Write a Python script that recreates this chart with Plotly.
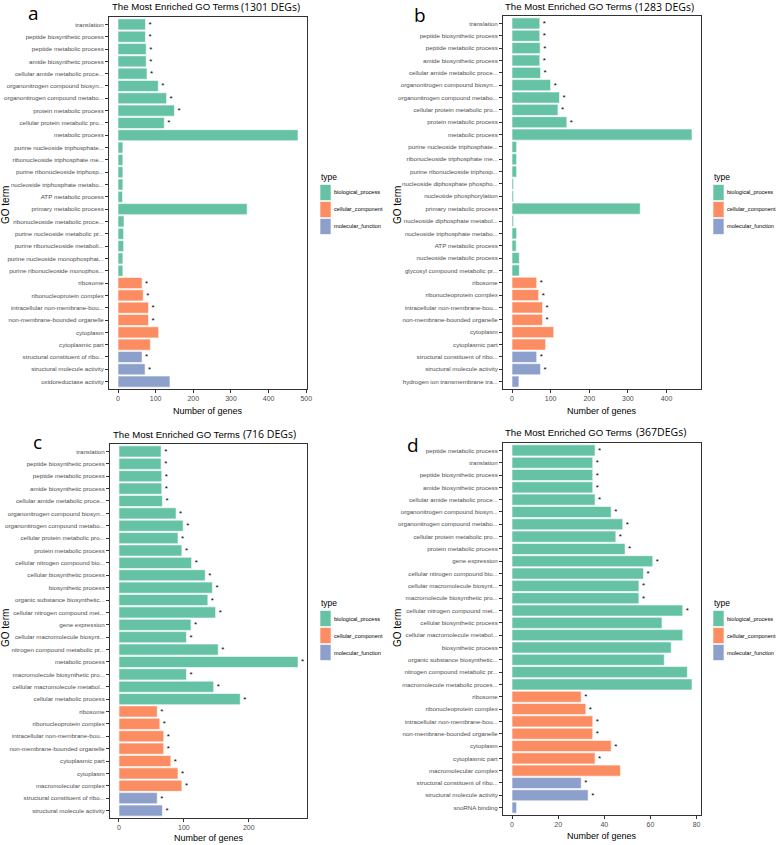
import plotly.graph_objects as go

FIG_W, FIG_H = 778, 845
NARROW = "Liberation Sans, Arial, sans-serif"
SANS = "Liberation Sans, Arial, sans-serif"
ROUND = "Open Sans, Carlito, sans-serif"

TYPE_NAMES = ["biological_process", "cellular_component", "molecular_function"]
TYPE_COLORS = ["#66C2A5", "#FC8D62", "#8DA0CB"]

# ---------------- panel a (1301 DEGs) ----------------
a_terms = ["translation", "peptide biosynthetic process", "peptide metabolic process",
           "amide biosynthetic process", "cellular amide metabolic proce...",
           "organonitrogen compound biosyn...", "organonitrogen compound metabo...",
           "protein metabolic process", "cellular protein metabolic pro...", "metabolic process",
           "purine nucleoside triphosphate...", "ribonucleoside triphosphate me...",
           "purine ribonucleoside triphosp...", "nucleoside triphosphate metabo...",
           "ATP metabolic process", "primary metabolic process",
           "ribonucleoside metabolic proce...", "purine nucleoside metabolic pr...",
           "purine ribonucleoside metaboli...", "purine nucleoside monophosphat...",
           "purine ribonucleoside monophos...",
           "ribosome", "ribonucleoprotein complex", "intracellular non-membrane-bou...",
           "non-membrane-bounded organelle", "cytoplasm", "cytoplasmic part",
           "structural constituent of ribo...", "structural molecule activity",
           "oxidoreductase activity"]
a_counts = [73, 73, 75, 75, 77, 107, 129, 150, 123, 478, 13, 13, 13, 13, 12, 343, 16, 15, 15, 13, 13,
            64, 67, 81, 81, 108, 86, 64, 72, 138]
a_types = [0] * 21 + [1] * 6 + [2] * 3
a_sig = [1] * 9 + [0] * 12 + [1, 1, 1, 1, 0, 0] + [1, 1, 0]

# ---------------- panel b (1283 DEGs) ----------------
b_terms = ["translation", "peptide biosynthetic process", "peptide metabolic process",
           "amide biosynthetic process", "cellular amide metabolic proce...",
           "organonitrogen compound biosyn...", "organonitrogen compound metabo...",
           "cellular protein metabolic pro...", "protein metabolic process", "metabolic process",
           "purine nucleoside triphosphate...", "ribonucleoside triphosphate me...",
           "purine ribonucleoside triphosp...", "nucleoside diphosphate phospho...",
           "nucleotide phosphorylation", "primary metabolic process",
           "nucleoside diphosphate metabol...", "nucleoside triphosphate metabo...",
           "ATP metabolic process", "nucleoside metabolic process",
           "glycosyl compound metabolic pr...",
           "ribosome", "ribonucleoprotein complex", "intracellular non-membrane-bou...",
           "non-membrane-bounded organelle", "cytoplasm", "cytoplasmic part",
           "structural constituent of ribo...", "structural molecule activity",
           "hydrogen ion transmembrane tra..."]
b_counts = [72, 72, 73, 72, 74, 100, 123, 119, 142, 466, 12, 12, 12, 4, 4, 332, 4, 12, 11, 19, 19,
            64, 69, 79, 79, 108, 87, 64, 74, 18]
b_types = [0] * 21 + [1] * 6 + [2] * 3
b_sig = [1] * 9 + [0] * 12 + [1, 1, 1, 1, 0, 0] + [1, 1, 0]

# ---------------- panel c (716 DEGs) ----------------
c_terms = ["translation", "peptide biosynthetic process", "peptide metabolic process",
           "amide biosynthetic process", "cellular amide metabolic proce...",
           "organonitrogen compound biosyn...", "organonitrogen compound metabo...",
           "cellular protein metabolic pro...", "protein metabolic process",
           "cellular nitrogen compound bio...", "cellular biosynthetic process",
           "biosynthetic process", "organic substance biosynthetic...",
           "cellular nitrogen compound met...", "gene expression",
           "cellular macromolecule biosynt...", "nitrogen compound metabolic pr...",
           "metabolic process", "macromolecule biosynthetic pro...",
           "cellular macromolecule metabol...", "cellular metabolic process",
           "ribosome", "ribonucleoprotein complex", "intracellular non-membrane-bou...",
           "non-membrane-bounded organelle", "cytoplasmic part", "cytoplasm",
           "macromolecular complex",
           "structural constituent of ribo...", "structural molecule activity"]
c_counts = [65, 65, 66, 66, 67, 88, 99, 91, 97, 112, 133, 144, 137, 149, 111, 104, 153, 276, 104, 146, 187,
            59, 63, 69, 69, 80, 91, 97, 59, 67]
c_types = [0] * 21 + [1] * 7 + [2] * 2
c_sig = [1] * 30

# ---------------- panel d (367 DEGs) ----------------
d_terms = ["peptide metabolic process", "translation", "peptide biosynthetic process",
           "amide biosynthetic process", "cellular amide metabolic proce...",
           "organonitrogen compound biosyn...", "organonitrogen compound metabo...",
           "cellular protein metabolic pro...", "protein metabolic process", "gene expression",
           "cellular nitrogen compound bio...", "cellular macromolecule biosynt...",
           "macromolecule biosynthetic pro...", "cellular nitrogen compound met...",
           "cellular biosynthetic process", "cellular macromolecule metabol...",
           "biosynthetic process", "organic substance biosynthetic...",
           "nitrogen compound metabolic pr...", "macromolecule metabolic proces...",
           "ribosome", "ribonucleoprotein complex", "intracellular non-membrane-bou...",
           "non-membrane-bounded organelle", "cytoplasm", "cytoplasmic part",
           "macromolecular complex",
           "structural constituent of ribo...", "structural molecule activity", "snoRNA binding"]
d_counts = [36, 35, 35, 35, 36, 43, 48, 45, 49, 61, 57, 55, 55, 74, 65, 74, 69, 66, 76, 78,
            30, 32, 35, 35, 43, 36, 47, 30, 33, 2]
d_types = [0] * 20 + [1] * 7 + [2] * 3
d_sig = [1] * 14 + [0] * 6 + [1] * 6 + [0] + [1, 1, 0]

# ---------------- layout (pixel positions) ----------------
panels = [
    dict(letter="a", terms=a_terms, counts=a_counts, types=a_types, sig=a_sig, degs="(1301 DEGs)",
         dtick=100, box=(109, 307, 17, 389), title_y=7, title_x=110, degs_x=239,
         letter_xy=(33, 13), goterm_xy=(5, 205), xtitle_xy=(208, 411), legend_xy=(320, 177)),
    dict(letter="b", terms=b_terms, counts=b_counts, types=b_types, sig=b_sig, degs="(1283 DEGs)",
         dtick=100, box=(503, 701, 16, 389), title_y=7, title_x=503, degs_x=633,
         letter_xy=(420, 15), goterm_xy=(397, 205), xtitle_xy=(602, 411), legend_xy=(713, 177)),
    dict(letter="c", terms=c_terms, counts=c_counts, types=c_types, sig=c_sig, degs="(716 DEGs)",
         dtick=100, box=(110, 307, 444, 818), title_y=434, title_x=111, degs_x=241,
         letter_xy=(37, 442), goterm_xy=(5, 628), xtitle_xy=(209, 838), legend_xy=(320, 603)),
    dict(letter="d", terms=d_terms, counts=d_counts, types=d_types, sig=d_sig, degs="(367DEGs)",
         dtick=20, box=(503, 701, 443, 815), title_y=432, title_x=503, degs_x=634,
         letter_xy=(413, 445), goterm_xy=(397, 628), xtitle_xy=(602, 836), legend_xy=(713, 603)),
]


def px(x):
    return x / FIG_W


def py(y):
    return 1 - y / FIG_H


fig = go.Figure()
annotations = []
shapes = []
layout_axes = {}

for i, p in enumerate(panels, start=1):
    xa = "x" if i == 1 else f"x{i}"
    ya = "y" if i == 1 else f"y{i}"
    xkey = "xaxis" if i == 1 else f"xaxis{i}"
    ykey = "yaxis" if i == 1 else f"yaxis{i}"
    n = len(p["terms"])
    mx = max(p["counts"])
    fig.add_trace(go.Bar(
        y=p["terms"], x=p["counts"], orientation="h",
        marker=dict(color=[TYPE_COLORS[t] for t in p["types"]], line=dict(color="white", width=0.6)),
        width=0.9,
        text=["*" if s else "" for s in p["sig"]],
        textposition="outside", constraintext="none", cliponaxis=False,
        textfont=dict(size=8, color="black", family=SANS),
        xaxis=xa, yaxis=ya, showlegend=False, hoverinfo="x+y",
    ))
    x0, x1, y0, y1 = p["box"]
    layout_axes[xkey] = dict(
        domain=[px(x0), px(x1)], anchor=ya, range=[-0.05 * mx, 1.05 * mx], automargin=False,
        tick0=0, dtick=p["dtick"], ticks="outside", ticklen=3, tickcolor="#333333",
        tickfont=dict(size=7, family=NARROW, color="#4D4D4D"),
        showgrid=False, zeroline=False, showline=True, mirror=True,
        linecolor="#333333", linewidth=1,
    )
    layout_axes[ykey] = dict(
        domain=[py(y1), py(y0)], anchor=xa, type="category", automargin=False,
        categoryorder="array", categoryarray=p["terms"], range=[n - 0.4, -0.6],
        ticks="outside", ticklen=3, tickcolor="#333333",
        tickfont=dict(size=6.2, family=NARROW, color="#4D4D4D"),
        showgrid=False, zeroline=False, showline=True, mirror=True,
        linecolor="#333333", linewidth=1,
    )
    # titles
    annotations.append(dict(text="The Most Enriched GO Terms", x=px(p["title_x"]), y=py(p["title_y"]),
                            xref="paper", yref="paper", xanchor="left", yanchor="middle", showarrow=False,
                            font=dict(size=9.6, family=NARROW, color="black")))
    annotations.append(dict(text=p["degs"], x=px(p["degs_x"]), y=py(p["title_y"]),
                            xref="paper", yref="paper", xanchor="left", yanchor="middle", showarrow=False,
                            font=dict(size=10.5, family=ROUND, color="black")))
    lx, ly = p["letter_xy"]
    annotations.append(dict(text=p["letter"], x=px(lx), y=py(ly), xref="paper", yref="paper",
                            xanchor="center", yanchor="middle", showarrow=False,
                            font=dict(size=19, family=ROUND, color="black")))
    gx, gy = p["goterm_xy"]
    annotations.append(dict(text="GO term", x=px(gx), y=py(gy), xref="paper", yref="paper",
                            xanchor="center", yanchor="middle", textangle=-90, showarrow=False,
                            font=dict(size=10, family=SANS, color="black")))
    tx, ty = p["xtitle_xy"]
    annotations.append(dict(text="Number of genes", x=px(tx), y=py(ty), xref="paper", yref="paper",
                            xanchor="center", yanchor="middle", showarrow=False,
                            font=dict(size=9, family=NARROW, color="black")))
    # legend
    gx0, gy0 = p["legend_xy"]
    annotations.append(dict(text="type", x=px(gx0 - 1), y=py(gy0), xref="paper", yref="paper",
                            xanchor="left", yanchor="middle", showarrow=False,
                            font=dict(size=8.5, family=NARROW, color="black")))
    for k, (name, col) in enumerate(zip(TYPE_NAMES, TYPE_COLORS)):
        top = gy0 + 7 + k * 17
        shapes.append(dict(type="rect", xref="paper", yref="paper",
                           x0=px(gx0), x1=px(gx0 + 11), y0=py(top + 16.5), y1=py(top + 0.5),
                           fillcolor=col, line=dict(color="white", width=0.6)))
        annotations.append(dict(text=name, x=px(gx0 + 12), y=py(top + 8.5), xref="paper", yref="paper",
                                xanchor="left", yanchor="middle", showarrow=False,
                                font=dict(size=5.6, family=NARROW, color="black")))

fig.update_layout(
    width=FIG_W, height=FIG_H, margin=dict(l=0, r=0, t=0, b=0, autoexpand=False),
    paper_bgcolor="white", plot_bgcolor="white",
    annotations=annotations, shapes=shapes, bargap=0.1,
    **layout_axes,
)

fig.write_html("out.html", config={"displayModeBar": False},
               post_script="document.body.style.margin='0px';document.body.style.overflow='hidden';")
